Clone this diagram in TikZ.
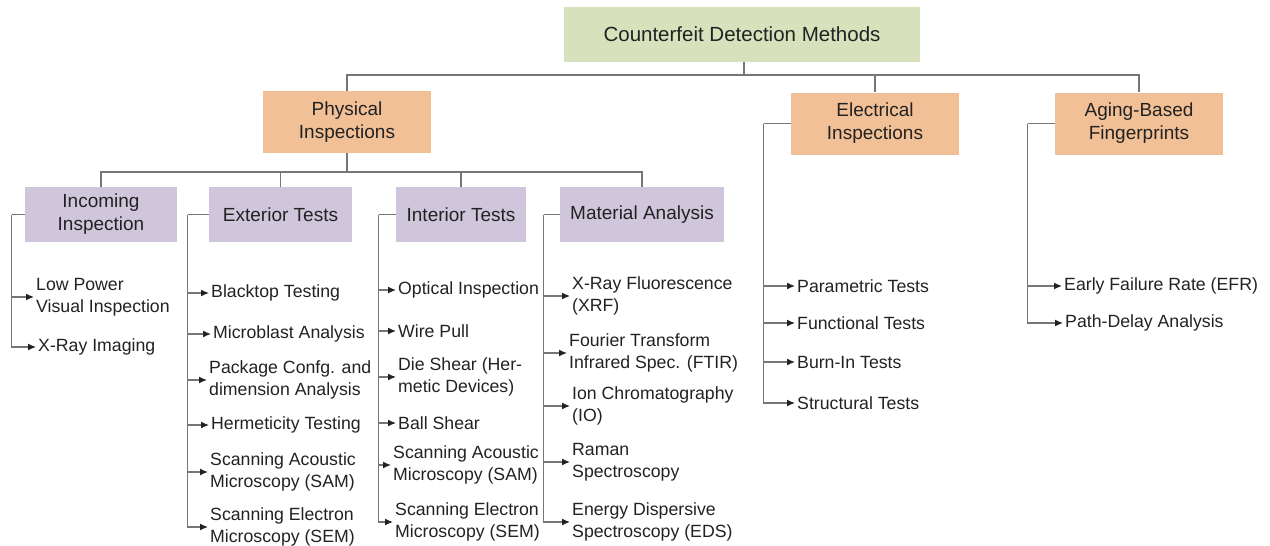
\documentclass[tikz,border=0pt]{standalone}
\usepackage{fontspec}
\setmainfont{Liberation Sans}
\usetikzlibrary{arrows.meta,positioning}

\definecolor{rootgreen}{HTML}{D7E2BC}
\definecolor{catorange}{HTML}{F2C096}
\definecolor{subpurple}{HTML}{CFC6DC}
\definecolor{linegray}{HTML}{767676}
\definecolor{textgray}{HTML}{222222}

\begin{document}
\begin{tikzpicture}[
		x=1pt, y=-1pt,
		line/.style={draw=linegray, line width=1.3pt},
		arr/.style={line, -{Latex[length=8pt,width=7pt,color=textgray]}},
		box/.style={rectangle, align=center, text=textgray, inner sep=0pt, font=\fontsize{19}{23}\selectfont},
		root/.style={box, fill=rootgreen, minimum width=356pt, minimum height=55pt, font=\fontsize{20.5}{24}\selectfont},
		cat/.style={box, fill=catorange, minimum width=168pt, minimum height=62pt},
		sub/.style={box, fill=subpurple, minimum height=55pt},
		leaf/.style={anchor=west, align=left, text=textgray, inner xsep=2pt, inner ysep=0pt, font=\fontsize{17.7}{21.5}\selectfont},
		]
		
		\useasboundingbox (0,0) rectangle (1270,546);
		
		\node[root] (cdm) at (742,34.5) {Counterfeit Detection Methods};
		\node[cat] (phys) at (347,122) {Physical\\Inspections};
		\node[cat] (elec) at (875,123.5) {Electrical\\Inspections};
		\node[cat] (aging) at (1139,123.5) {Aging-Based\\Fingerprints};
		
		\coordinate (bus1) at (744,75);
		\draw[line] (cdm.south -| bus1) -- (bus1);
		\draw[line] (bus1) -| (phys.north);
		\draw[line] (bus1) -| (elec.north);
		\draw[line] (bus1) -| (aging.north);
		
		\node[sub, minimum width=152pt] (inc) at (101,214.5) {Incoming\\Inspection};
		\node[sub, minimum width=143pt] (ext) at (280.5,214.5) {Exterior Tests};
		\node[sub, minimum width=130pt] (int) at (461,214.5) {Interior Tests};
		\node[sub, minimum width=164pt] (mat) at (642,214.5) {Material Analysis};
		
		\coordinate (bus2) at (347,172);
		\draw[line] (phys.south) -- (bus2);
		\draw[line] (bus2) -| (inc.north);
		\draw[line] (bus2) -| (ext.north);
		\draw[line] (bus2) -| (int.north);
		\draw[line] (bus2) -| (mat.north);
		
		\coordinate[left=13pt of inc.west] (incS);
		\coordinate[left=21pt of ext.west] (extS);
		\coordinate[left=17pt of int.west] (intS);
		\coordinate[left=16pt of mat.west] (matS);
		\coordinate[left=27pt of elec.west] (elecS);
		\coordinate[left=27pt of aging.west] (agingS);
		\draw[line] (inc.west) -- (incS);
		\draw[line] (ext.west) -- (extS);
		\draw[line] (int.west) -- (intS);
		\draw[line] (mat.west) -- (matS);
		\draw[line] (elec.west) -- (elecS);
		\draw[line] (aging.west) -- (agingS);
		
		\node[leaf] (inc1) at (34,297) {Low Power\\Visual Inspection};
		\node[leaf] (inc2) at (36,347) {X-Ray Imaging};
		
		\node[leaf] (ext1) at (209,293) {Blacktop Testing};
		\node[leaf] (ext2) at (211,334) {Microblast Analysis};
		\node[leaf] (ext3) at (207,380) {Package Confg. and\\dimension Analysis};
		\node[leaf] (ext4) at (209,425) {Hermeticity Testing};
		\node[leaf] (ext5) at (208,472) {Scanning Acoustic\\Microscopy (SAM)};
		\node[leaf] (ext6) at (208,527) {Scanning Electron\\Microscopy (SEM)};
		
		\node[leaf] (int1) at (396,290) {Optical Inspection};
		\node[leaf] (int2) at (396,331) {Wire Pull};
		\node[leaf] (int3) at (396,377) {Die Shear (Her-\\metic Devices)};
		\node[leaf] (int4) at (396,423) {Ball Shear};
		\node[leaf] (int5) at (391,465) {Scanning Acoustic\\Microscopy (SAM)};
		\node[leaf] (int6) at (393,522) {Scanning Electron\\Microscopy (SEM)};
		
		\node[leaf] (mat1) at (570,296) {X-Ray Fluorescence\\(XRF)};
		\node[leaf] (mat2) at (567,353) {Fourier Transform\\Infrared Spec. (FTIR)};
		\node[leaf] (mat3) at (570,406) {Ion Chromatography\\(IO)};
		\node[leaf] (mat4) at (570,462) {Raman\\Spectroscopy};
		\node[leaf] (mat5) at (570,522) {Energy Dispersive\\Spectroscopy (EDS)};
		
		\node[leaf] (elec1) at (795,286) {Parametric Tests};
		\node[leaf] (elec2) at (795,323) {Functional Tests};
		\node[leaf] (elec3) at (795,362) {Burn-In Tests};
		\node[leaf] (elec4) at (795,403) {Structural Tests};
		
		\node[leaf] (aging1) at (1062,286) {Early Failure Rate (EFR)};
		\node[leaf] (aging2) at (1063,323) {Path-Delay Analysis};
		
		\draw[arr] (incS) |- (inc1.west);
		\draw[arr] (incS) |- (inc2.west);
		\draw[arr] (extS) |- (ext1.west);
		\draw[arr] (extS) |- (ext2.west);
		\draw[arr] (extS) |- (ext3.west);
		\draw[arr] (extS) |- (ext4.west);
		\draw[arr] (extS) |- (ext5.west);
		\draw[arr] (extS) |- (ext6.west);
		\draw[arr] (intS) |- (int1.west);
		\draw[arr] (intS) |- (int2.west);
		\draw[arr] (intS) |- (int3.west);
		\draw[arr] (intS) |- (int4.west);
		\draw[arr] (intS) |- (int5.west);
		\draw[arr] (intS) |- (int6.west);
		\draw[arr] (matS) |- (mat1.west);
		\draw[arr] (matS) |- (mat2.west);
		\draw[arr] (matS) |- (mat3.west);
		\draw[arr] (matS) |- (mat4.west);
		\draw[arr] (matS) |- (mat5.west);
		\draw[arr] (elecS) |- (elec1.west);
		\draw[arr] (elecS) |- (elec2.west);
		\draw[arr] (elecS) |- (elec3.west);
		\draw[arr] (elecS) |- (elec4.west);
		\draw[arr] (agingS) |- (aging1.west);
		\draw[arr] (agingS) |- (aging2.west);
		
	\end{tikzpicture}
\end{document}
